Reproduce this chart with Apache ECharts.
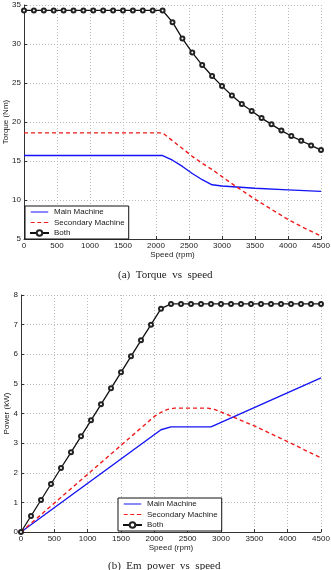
<!DOCTYPE html>
<html>
<head>
<meta charset="utf-8">
<script src="https://cdn.jsdelivr.net/npm/echarts@6/dist/echarts.min.js"></script>
<style>
    html, body {margin: 0; padding: 0; background: #fff;}
    #main {width: 331px; height: 570px;}
</style>
</head>
<body>
<div id="main"></div>
<script>
// 转速 (rpm), "Both" 曲线的采样点
var speedBoth = [0, 150, 300, 450, 600, 750, 900, 1050, 1200, 1350, 1500, 1650, 1800, 1950, 2100,
    2250, 2400, 2550, 2700, 2850, 3000, 3150, 3300, 3450, 3600, 3750, 3900, 4050, 4200, 4350, 4500];

// (a) 转矩 (Nm)
var torqueMainSpeed = [0, 2100, 2250, 2400, 2550, 2700, 2850, 3000, 3500, 4000, 4500];
var torqueMain = [15.7, 15.7, 15.1, 14.3, 13.4, 12.6, 11.95, 11.8, 11.5, 11.3, 11.1];
var torqueSecSpeed = [0, 2100, 2250, 2400, 2550, 2700, 2850, 3000, 3200, 3500, 3750, 4000, 4250, 4500];
var torqueSec = [18.6, 18.6, 17.6, 16.6, 15.6, 14.7, 13.9, 13.0, 11.8, 10.1, 8.8, 7.5, 6.4, 5.4];
var torqueBoth = [34.3, 34.3, 34.3, 34.3, 34.3, 34.3, 34.3, 34.3, 34.3, 34.3, 34.3, 34.3, 34.3, 34.3, 34.3,
    32.8, 30.7, 28.9, 27.3, 25.9, 24.6, 23.4, 22.3, 21.4, 20.5, 19.7, 18.9, 18.2, 17.6, 17.0, 16.4];

// (b) 功率 (kW)
var powerMainSpeed = [0, 2100, 2250, 2850, 4500];
var powerMain = [0, 3.45, 3.55, 3.55, 5.2];
var powerSecSpeed = [0, 2000, 2100, 2200, 2300, 2800, 2900, 3000, 3500, 4000, 4500];
var powerSec = [0, 3.9, 4.04, 4.14, 4.18, 4.18, 4.14, 4.05, 3.58, 3.05, 2.5];
var powerBoth = [0, 0.54, 1.08, 1.62, 2.16, 2.69, 3.23, 3.77, 4.31, 4.85, 5.39, 5.93, 6.47, 7.00, 7.54,
    7.7, 7.7, 7.7, 7.7, 7.7, 7.7, 7.7, 7.7, 7.7, 7.7, 7.7, 7.7, 7.7, 7.7, 7.7, 7.7];

var names = ['Main Machine', 'Secondary Machine', 'Both'];
var xTicks = {min: 0, max: 4500, interval: 500};

var blue = '#1414f5';
var red = '#f01a1a';
var black = '#111';

function pairs(xs, ys) {
    var out = [];
    for (var i = 0; i < xs.length; i++) {
        out.push([xs[i], ys[i]]);
    }
    return out;
}

var sans = 'Liberation Sans';
var axisColor = '#333';
var plain = function (v) {
    return String(v);
};

function makeXAxis(idx) {
    return {
        type: 'value',
        gridIndex: idx,
        min: xTicks.min,
        max: xTicks.max,
        interval: xTicks.interval,
        name: 'Speed (rpm)',
        nameLocation: 'middle',
        nameGap: 12,
        nameMoveOverlap: false,
        nameTextStyle: {fontFamily: sans, fontSize: 8, color: '#222'},
        axisLine: {lineStyle: {color: axisColor, width: 1}},
        axisTick: {inside: true, length: 3, lineStyle: {color: axisColor}},
        axisLabel: {fontFamily: sans, fontSize: 8, color: '#222', margin: 3, formatter: plain},
        splitLine: {show: true, lineStyle: {type: [1, 2], color: '#bbb', width: 1}}
    };
}

function makeYAxis(idx, name, min, max, gap) {
    return {
        type: 'value',
        gridIndex: idx,
        min: min,
        max: max,
        interval: idx === 0 ? 5 : 1,
        name: name,
        nameLocation: 'middle',
        nameGap: gap,
        nameMoveOverlap: false,
        nameTextStyle: {fontFamily: sans, fontSize: 8, color: '#222'},
        axisLine: {show: true, lineStyle: {color: axisColor, width: 1}},
        axisTick: {show: true, inside: true, length: 3, lineStyle: {color: axisColor}},
        axisLabel: {fontFamily: sans, fontSize: 8, color: '#222', margin: 3, formatter: plain},
        splitLine: {show: true, lineStyle: {type: [1, 2], color: '#bbb', width: 1}}
    };
}

function makeSeries(idx, main, sec, both) {
    return [
        {
            name: names[0], type: 'line', xAxisIndex: idx, yAxisIndex: idx,
            data: main, symbol: 'none',
            lineStyle: {color: blue, width: 1.4},
            itemStyle: {color: blue}
        },
        {
            name: names[1], type: 'line', xAxisIndex: idx, yAxisIndex: idx,
            data: sec, symbol: 'none',
            lineStyle: {color: red, width: 1.4, type: [4, 3]},
            itemStyle: {color: red}
        },
        {
            name: names[2], type: 'line', xAxisIndex: idx, yAxisIndex: idx,
            data: both, symbol: 'emptyCircle', symbolSize: 4,
            lineStyle: {color: black, width: 1.3},
            itemStyle: {color: '#222', borderWidth: 0.9}
        }
    ];
}

// 图例图标: 细线 (上下两个几乎看不见的小块用来撑开高度)
var iconSolid = 'path://M0,0h0.1v0.01h-0.1z M0,3.3h20v1.4h-20z M0,8h0.1v0.01h-0.1z';
var iconDash = 'path://M0,0h0.1v0.01h-0.1z M0,3.3h4.5v1.4h-4.5z M7.5,3.3h4.5v1.4h-4.5z M15,3.3h5v1.4h-5z M0,8h0.1v0.01h-0.1z';

function makeLegend(left, top) {
    return {
        data: [
            {name: names[0], icon: iconSolid, itemStyle: {color: blue}},
            {name: names[1], icon: iconDash, itemStyle: {color: red}},
            {name: names[2]}
        ],
        orient: 'vertical',
        left: left,
        top: top,
        itemWidth: 19,
        itemHeight: 7,
        itemGap: 2.5,
        padding: [2, 4, 2, 4],
        borderColor: '#111',
        borderWidth: 1,
        borderRadius: 0,
        backgroundColor: '#fff',
        selectedMode: false,
        textStyle: {fontFamily: sans, fontSize: 8, color: '#222'}
    };
}

var myChart = echarts.init(document.getElementById('main'));
myChart.setOption({
    animation: false,
    backgroundColor: '#fff',
    grid: [
        {left: 24, right: 10, top: 5, height: 234, outerBoundsMode: 'none', containLabel: false},
        {left: 21, right: 10, top: 295, height: 237, outerBoundsMode: 'none', containLabel: false}
    ],
    xAxis: [makeXAxis(0), makeXAxis(1)],
    yAxis: [
        makeYAxis(0, 'Torque (Nm)', 5, 35, 14),
        makeYAxis(1, 'Power (kW)', 0, 8, 10.5)
    ],
    legend: [makeLegend(25, 206), makeLegend(118, 498)],
    series: makeSeries(0, pairs(torqueMainSpeed, torqueMain), pairs(torqueSecSpeed, torqueSec), pairs(speedBoth, torqueBoth))
        .concat(makeSeries(1, pairs(powerMainSpeed, powerMain), pairs(powerSecSpeed, powerSec), pairs(speedBoth, powerBoth))),
    graphic: [
        {
            type: 'text', left: 118, top: 270,
            style: {text: '(a)  Torque  vs  speed', font: '11px "Liberation Serif"', fill: '#222'}
        },
        {
            type: 'text', left: 108, top: 561,
            style: {text: '(b)  Em  power  vs  speed', font: '11px "Liberation Serif"', fill: '#222'}
        }
    ]
});
</script>
</body>
</html>
